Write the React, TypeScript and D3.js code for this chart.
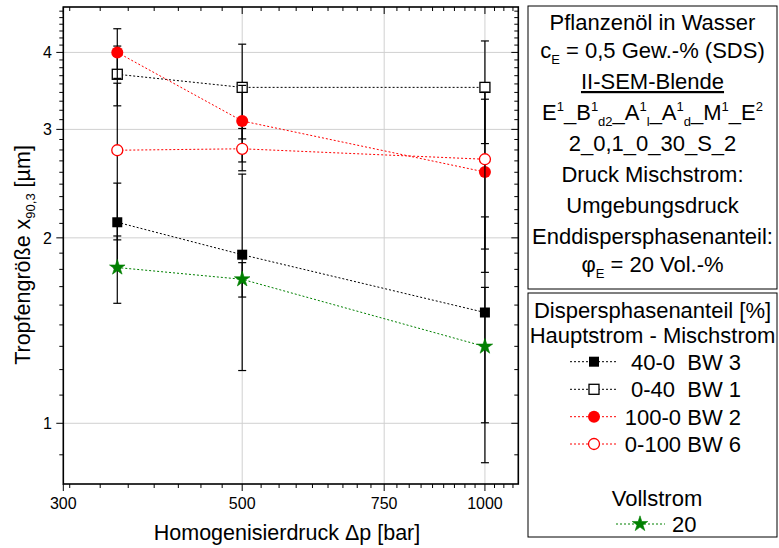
import React, { useRef, useEffect } from "react";
import * as d3 from "d3";

// pressures (bar)
const pressures = [350, 500, 1000];

// droplet sizes x90,3 [µm] and their error bars
const bw3Values = [2.12, 1.878, 1.513];
const bw3Errors = [0.334, 0.66, 0.65];
const bw1Values = [3.686, 3.51, 3.51];
const bw1Errors = [0.41, 0.615, 0.665];
const bw2Values = [4.0, 3.096, 2.558];
const bw2Errors = [0.37, 0.44, 0.8];
const bw6Values = [2.775, 2.79, 2.683];
const bw6Errors = [0.79, 0.22, 0.765];
const fullValues = [1.79, 1.713, 1.332];
const fullErrors = [0.224, 0.11, 0.33];

const seriesLabels = ["40-0\u00a0\u00a0BW 3", "0-40\u00a0\u00a0BW 1", "100-0 BW 2", "0-100 BW 6", "20"];

const xTicks = [300, 500, 750, 1000];
const yTicks = [1, 2, 3, 4];

const infoLines = [
  "Pflanzenöl in Wasser",
  "c_E = 0,5 Gew.-% (SDS)",
  "II-SEM-Blende",
  "E1_B1d2_A1l_A1d_M1_E2",
  "2_0,1_0_30_S_2",
  "Druck Mischstrom:",
  "Umgebungsdruck",
  "Enddispersphasenanteil:",
  "φ_E = 20 Vol.-%",
];

const FONT = "'Liberation Sans', Arial, sans-serif";

export default function App() {
  const ref = useRef<SVGSVGElement>(null);

  useEffect(() => {
    const svg = d3.select(ref.current);
    svg.selectAll("*").remove();

    const left = 63.3, right = 518.3, top = 7, bottom = 484;

    const x = d3.scaleLog().domain([300, 1100]).range([left, right]);
    const y = d3.scaleLog().domain([0.797, 4.74]).range([bottom, top]);

    const series = [
      { values: bw3Values, errors: bw3Errors, color: "#000", marker: "sqFilled" },
      { values: bw1Values, errors: bw1Errors, color: "#000", marker: "sqOpen" },
      { values: bw2Values, errors: bw2Errors, color: "#ff0000", marker: "circFilled" },
      { values: bw6Values, errors: bw6Errors, color: "#ff0000", marker: "circOpen" },
      { values: fullValues, errors: fullErrors, color: "#008000", marker: "star" },
    ];

    const drawMarker = (g, kind, cx, cy, color) => {
      if (kind === "sqFilled") {
        g.append("rect").attr("x", cx - 5).attr("y", cy - 5).attr("width", 10).attr("height", 10)
          .attr("fill", "#000");
      } else if (kind === "sqOpen") {
        g.append("rect").attr("x", cx - 5).attr("y", cy - 5).attr("width", 10).attr("height", 10)
          .attr("fill", "#fff").attr("stroke", "#000").attr("stroke-width", 1.3);
      } else if (kind === "circFilled") {
        g.append("circle").attr("cx", cx).attr("cy", cy).attr("r", 6).attr("fill", color);
      } else if (kind === "circOpen") {
        g.append("circle").attr("cx", cx).attr("cy", cy).attr("r", 5.5)
          .attr("fill", "#fff").attr("stroke", color).attr("stroke-width", 1.3);
      } else {
        g.append("path").attr("d", d3.symbol(d3.symbolStar, 75)())
          .attr("transform", `translate(${cx},${cy})`)
          .attr("fill", color).attr("stroke", color).attr("stroke-width", 0.6);
      }
    };

    // grid lines
    const grid = svg.append("g").attr("stroke", "#d0d0d0").attr("stroke-width", 1);
    xTicks.filter((d) => d > 300).forEach((d) => {
      grid.append("line").attr("x1", x(d)).attr("x2", x(d)).attr("y1", top).attr("y2", bottom);
    });
    yTicks.forEach((d) => {
      grid.append("line").attr("x1", left).attr("x2", right).attr("y1", y(d)).attr("y2", y(d));
    });

    // minor tick values
    const xMinor = d3.range(0, 40).map((k) => 250 + (k * 250) / 9)
      .filter((v) => v > 300 && v < 1100 && Math.abs(v / 250 - Math.round(v / 250)) > 0.01);
    const yMinor: number[] = [];
    for (let n = 0; n <= 4; n++) {
      for (let k = 1; k <= 8; k++) {
        const v = n + k / 9;
        if (v > 0.797 && v < 4.74) yMinor.push(v);
      }
    }

    const ticks = svg.append("g").attr("stroke", "#000").attr("stroke-width", 1);
    // bottom (outward) and top (inward)
    xTicks.forEach((d) => {
      ticks.append("line").attr("x1", x(d)).attr("x2", x(d)).attr("y1", bottom).attr("y2", bottom + 7);
      ticks.append("line").attr("x1", x(d)).attr("x2", x(d)).attr("y1", top).attr("y2", top + 7);
    });
    xMinor.forEach((d) => {
      ticks.append("line").attr("x1", x(d)).attr("x2", x(d)).attr("y1", bottom).attr("y2", bottom + 4);
      ticks.append("line").attr("x1", x(d)).attr("x2", x(d)).attr("y1", top).attr("y2", top + 4);
    });
    // left (outward) and right (inward)
    yTicks.forEach((d) => {
      ticks.append("line").attr("x1", left - 7).attr("x2", left).attr("y1", y(d)).attr("y2", y(d));
      ticks.append("line").attr("x1", right - 7).attr("x2", right).attr("y1", y(d)).attr("y2", y(d));
    });
    yMinor.forEach((d) => {
      ticks.append("line").attr("x1", left - 4).attr("x2", left).attr("y1", y(d)).attr("y2", y(d));
      ticks.append("line").attr("x1", right - 4).attr("x2", right).attr("y1", y(d)).attr("y2", y(d));
    });

    // series: error bars, connecting line, markers
    series.forEach((s) => {
      const g = svg.append("g");
      s.values.forEach((v, i) => {
        const cx = x(pressures[i]);
        const y0 = y(v - s.errors[i]);
        const y1 = y(v + s.errors[i]);
        g.append("line").attr("x1", cx).attr("x2", cx).attr("y1", y0).attr("y2", y1)
          .attr("stroke", "#000").attr("stroke-width", 1.2);
        [y0, y1].forEach((yy) => {
          g.append("line").attr("x1", cx - 4).attr("x2", cx + 4).attr("y1", yy).attr("y2", yy)
            .attr("stroke", "#000").attr("stroke-width", 1.2);
        });
      });
      const line = d3.line<number>().x((_, i) => x(pressures[i])).y((d) => y(d));
      g.append("path").attr("d", line(s.values)).attr("fill", "none")
        .attr("stroke", s.color).attr("stroke-width", 1).attr("stroke-dasharray", "2,2");
      s.values.forEach((v, i) => drawMarker(g, s.marker, x(pressures[i]), y(v), s.color));
    });

    // frame
    svg.append("rect").attr("x", left).attr("y", top).attr("width", right - left).attr("height", bottom - top)
      .attr("fill", "none").attr("stroke", "#000").attr("stroke-width", 1.6);

    // tick labels
    xTicks.forEach((d) => {
      svg.append("text").attr("x", x(d)).attr("y", 509).attr("text-anchor", "middle")
        .style("font-family", FONT).style("font-size", "16px").text(d);
    });
    yTicks.forEach((d) => {
      svg.append("text").attr("x", 52).attr("y", y(d) + 6).attr("text-anchor", "end")
        .style("font-family", FONT).style("font-size", "16px").text(d);
    });

    // axis titles
    svg.append("text").attr("x", 287).attr("y", 540).attr("text-anchor", "middle")
      .style("font-family", FONT).style("font-size", "21.5px").text("Homogenisierdruck Δp [bar]");
    const yt = svg.append("text").attr("transform", "translate(30,255) rotate(-90)")
      .attr("text-anchor", "middle").style("font-family", FONT).style("font-size", "21.5px");
    yt.append("tspan").text("Tropfengröße x");
    yt.append("tspan").attr("dy", 5).style("font-size", "13px").text("90,3");
    yt.append("tspan").attr("dy", -5).text(" [µm]");

    // info box
    const bx = 528, bw = 249;
    svg.append("rect").attr("x", bx).attr("y", 6).attr("width", bw).attr("height", 283)
      .attr("fill", "#fff").attr("stroke", "#000").attr("stroke-width", 1);
    const cxBox = bx + bw / 2;
    const lineY = [30, 58, 89, 120, 151, 182, 213, 244, 272];
    const info = svg.append("g").style("font-family", FONT).style("font-size", "22px")
      .attr("text-anchor", "middle");

    // rich text helper: parts of [text, level] with level 0 normal, 1 sup, -1 sub
    const rich = (yy: number, parts: [string, number][]) => {
      const t = info.append("text").attr("x", cxBox).attr("y", yy);
      let cur = 0;
      parts.forEach(([txt, lvl]) => {
        const target = lvl === 1 ? -9 : lvl === -1 ? 6 : 0;
        t.append("tspan").attr("dy", target - cur)
          .style("font-size", lvl === 0 ? "22px" : "13px").text(txt);
        cur = target;
      });
      return t;
    };

    info.append("text").attr("x", cxBox).attr("y", lineY[0]).text(infoLines[0]);
    rich(lineY[1], [["c", 0], ["E", -1], [" = 0,5 Gew.-% (SDS)", 0]]);
    info.append("text").attr("x", cxBox).attr("y", lineY[2]).attr("text-decoration", "underline")
      .text(infoLines[2]);
    rich(lineY[3], [
      ["E", 0], ["1", 1], ["_B", 0], ["1", 1], ["d2", -1], ["_A", 0], ["1", 1], ["l", -1],
      ["_A", 0], ["1", 1], ["d", -1], ["_M", 0], ["1", 1], ["_E", 0], ["2", 1],
    ]);
    [4, 5, 6, 7].forEach((i) => {
      info.append("text").attr("x", cxBox).attr("y", lineY[i]).text(infoLines[i]);
    });
    rich(lineY[8], [["φ", 0], ["E", -1], [" = 20 Vol.-%", 0]]);

    // legend box
    svg.append("rect").attr("x", bx).attr("y", 293).attr("width", bw).attr("height", 244)
      .attr("fill", "#fff").attr("stroke", "#000").attr("stroke-width", 1);
    const leg = svg.append("g").style("font-family", FONT).style("font-size", "22px");
    leg.append("text").attr("x", cxBox).attr("y", 318).attr("text-anchor", "middle")
      .text("Dispersphasenanteil [%]");
    leg.append("text").attr("x", cxBox).attr("y", 343).attr("text-anchor", "middle")
      .text("Hauptstrom - Mischstrom");
    const rowY = [361.7, 389.3, 416.7, 444];
    series.slice(0, 4).forEach((s, i) => {
      leg.append("line").attr("x1", 570).attr("x2", 618).attr("y1", rowY[i]).attr("y2", rowY[i])
        .attr("stroke", s.color).attr("stroke-width", 1).attr("stroke-dasharray", "2,2");
      drawMarker(leg, s.marker, 594, rowY[i], s.color);
      leg.append("text").attr("x", 741).attr("y", rowY[i] + 8).attr("text-anchor", "end")
        .text(seriesLabels[i]);
    });
    leg.append("text").attr("x", 657).attr("y", 506).attr("text-anchor", "middle").text("Vollstrom");
    leg.append("line").attr("x1", 616).attr("x2", 665).attr("y1", 524).attr("y2", 524)
      .attr("stroke", series[4].color).attr("stroke-width", 1).attr("stroke-dasharray", "2,2");
    drawMarker(leg, "star", 640, 524, series[4].color);
    leg.append("text").attr("x", 672).attr("y", 532).text(seriesLabels[4]);
  }, []);

  return (
    <svg
      ref={ref}
      width={779}
      height={548}
      style={{ position: "absolute", left: 0, top: 0, background: "#fff" }}
    />
  );
}
